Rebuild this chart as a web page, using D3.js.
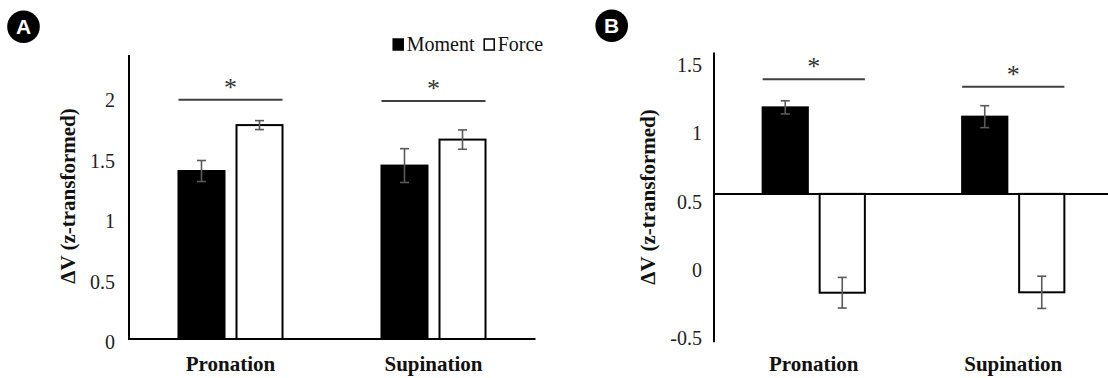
<!DOCTYPE html>
<html>
<head>
<meta charset="utf-8">
<script src="https://cdn.jsdelivr.net/npm/d3@7"></script>
<style>
  body { margin: 0; background: #fff; }
</style>
</head>
<body>
<svg id="chart" width="1108" height="378"></svg>
<script>
// data
var categories = ["Pronation", "Supination"];
var series = ["Moment", "Force"];

var valuesA = [[1.39, 1.77], [1.435, 1.65]];
var errorsA = [[0.087, 0.037], [0.14, 0.08]];
var sigA = [1.98, 1.97];
var ticksA = [0, 0.5, 1, 1.5, 2];

var valuesB = [[1.168, -0.188], [1.10, -0.185]];
var errorsB = [[0.048, 0.112], [0.08, 0.118]];
var sigB = [1.373, 1.319];
var ticksB = [-0.5, 0, 0.5, 1, 1.5];
var crossB = 0.535;   // horizontal axis crosses here

var yTitle = "\u0394V (z-transformed)";
var serif = "Liberation Serif, DejaVu Serif, serif";

var svg = d3.select("#chart").style("font-family", serif);

function drawPanel(opt) {
  var g = svg.append("g");

  var x0 = d3.scaleBand().domain(categories).range(opt.xRange);
  var x1 = d3.scaleBand().domain(series).range([0, x0.bandwidth()])
    .paddingInner(0.207).paddingOuter(0.853);
  var y = d3.scaleLinear().domain(opt.yDomain).range(opt.yRange);

  // tick labels (no tick marks)
  g.selectAll(".tick")
    .data(opt.ticks).enter().append("text")
    .attr("x", opt.xRange[0] - opt.tickGap)
    .attr("y", function(d) { return y(d) + 3; })
    .attr("text-anchor", "end")
    .attr("dy", "0.35em")
    .attr("font-size", "20px")
    .attr("fill", "#222")
    .text(function(d) { return d; });

  // bars
  categories.forEach(function(cat, ci) {
    series.forEach(function(s, si) {
      var v = opt.values[ci][si];
      var base = opt.base;
      g.append("rect")
        .attr("x", x0(cat) + x1(s))
        .attr("y", y(Math.max(v, base)))
        .attr("width", x1.bandwidth())
        .attr("height", Math.abs(y(v) - y(base)))
        .attr("fill", si === 0 ? "#000" : "#fff")
        .attr("stroke", "#000")
        .attr("stroke-width", 2);
    });
  });

  // axes lines
  g.append("line")
    .attr("x1", opt.xRange[0]).attr("x2", opt.xRange[0])
    .attr("y1", y.range()[1]).attr("y2", y.range()[0])
    .attr("stroke", "#000").attr("stroke-width", 2);
  g.append("line")
    .attr("x1", opt.xRange[0] - 1).attr("x2", opt.xEnd)
    .attr("y1", y(opt.base)).attr("y2", y(opt.base))
    .attr("stroke", "#000").attr("stroke-width", 2);

  // error bars
  categories.forEach(function(cat, ci) {
    series.forEach(function(s, si) {
      var v = opt.values[ci][si], e = opt.errors[ci][si];
      var cx = x0(cat) + x1(s) + x1.bandwidth() / 2;
      var eg = g.append("g").attr("stroke", "#5a5a5a").attr("stroke-width", 1.6);
      eg.append("line").attr("x1", cx).attr("x2", cx).attr("y1", y(v + e)).attr("y2", y(v - e));
      eg.append("line").attr("x1", cx - 4.5).attr("x2", cx + 4.5).attr("y1", y(v + e)).attr("y2", y(v + e));
      eg.append("line").attr("x1", cx - 4.5).attr("x2", cx + 4.5).attr("y1", y(v - e)).attr("y2", y(v - e));
    });
  });

  // significance lines and asterisks
  categories.forEach(function(cat, ci) {
    var xa = x0(cat) + x1(series[0]);
    var xb = x0(cat) + x1(series[1]) + x1.bandwidth();
    var ly = y(opt.sig[ci]);
    g.append("line")
      .attr("x1", xa).attr("x2", xb).attr("y1", ly).attr("y2", ly)
      .attr("stroke", "#404040").attr("stroke-width", 2);
    g.append("text")
      .attr("x", (xa + xb) / 2).attr("y", ly - 4)
      .attr("text-anchor", "middle")
      .attr("font-size", "26px")
      .attr("fill", "#333")
      .text("*");
  });

  // category labels
  g.selectAll(".cat")
    .data(categories).enter().append("text")
    .attr("x", function(d) { return x0(d) + x0.bandwidth() / 2; })
    .attr("y", 371)
    .attr("text-anchor", "middle")
    .attr("font-size", "21px")
    .attr("font-weight", "bold")
    .attr("fill", "#111")
    .text(function(d) { return d; });

  // y title
  g.append("text")
    .attr("transform", "translate(" + opt.titleX + "," + opt.titleY + ") rotate(-90)")
    .attr("text-anchor", "middle")
    .attr("dy", "0.35em")
    .attr("font-size", "21px")
    .attr("font-weight", "bold")
    .attr("fill", "#111")
    .text(yTitle);

  // panel badge
  g.append("circle")
    .attr("cx", opt.badge[0]).attr("cy", opt.badge[1]).attr("r", 16.3)
    .attr("fill", "#000");
  g.append("text")
    .attr("x", opt.badge[0]).attr("y", opt.badge[1])
    .attr("dy", "0.36em")
    .attr("text-anchor", "middle")
    .style("font-family", "Liberation Sans, Arial, sans-serif")
    .attr("font-weight", "bold")
    .attr("font-size", "21px")
    .attr("fill", "#fff")
    .text(opt.label);
}

drawPanel({
  label: "A", badge: [23.5, 26.7],
  xRange: [129, 535], xEnd: 535.5, tickGap: 14,
  yDomain: [0, 2.35], yRange: [339, 55],
  base: 0, ticks: ticksA,
  values: valuesA, errors: errorsA, sig: sigA,
  titleX: 68, titleY: 196
});

drawPanel({
  label: "B", badge: [611.7, 25.7],
  xRange: [714, 1113], xEnd: 1108, tickGap: 12,
  yDomain: [-0.55, 1.57], yRange: [342.2, 52.4],
  base: crossB, ticks: ticksB,
  values: valuesB, errors: errorsB, sig: sigB,
  titleX: 648, titleY: 197
});

// legend (panel A)
var legend = svg.append("g").attr("font-size", "20px").attr("fill", "#111");
var legX = [392.7, 483.7];
series.forEach(function(s, i) {
  legend.append("rect")
    .attr("x", legX[i] + 0.5).attr("y", 39)
    .attr("width", 10).attr("height", 11)
    .attr("fill", i === 0 ? "#000" : "#fff")
    .attr("stroke", "#000").attr("stroke-width", 1.5);
  legend.append("text")
    .attr("x", legX[i] + 14).attr("y", 51)
    .text(s);
});
</script>
</body>
</html>
